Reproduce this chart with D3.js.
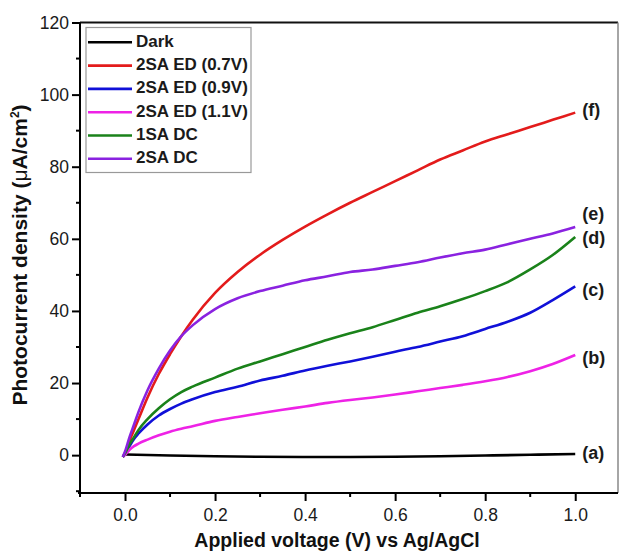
<!DOCTYPE html>
<html><head><meta charset="utf-8">
<script src="https://cdn.jsdelivr.net/npm/d3@7"></script>
<style>
html,body{margin:0;padding:0;background:#fff;}
svg{display:block;font-family:"Liberation Sans",Arial,sans-serif;}
</style></head>
<body><svg id="c" width="620" height="559"></svg>
<script>
const voltage = [-0.005, 0, 0.01, 0.02, 0.03, 0.05, 0.075, 0.1, 0.125, 0.15, 0.2, 0.25, 0.3, 0.35, 0.4, 0.45, 0.5, 0.55, 0.6, 0.65, 0.7, 0.75, 0.8, 0.85, 0.9, 0.95, 1.0];
const red2SA07 = [-0.5, 0.5, 4, 7, 10, 16, 22.5, 28, 33, 37.5, 45, 50.8, 55.6, 59.7, 63.4, 66.8, 70, 73, 76, 79, 82, 84.5, 87, 89, 91, 93, 95];
const purple2SADC = [-0.5, 1, 5, 8.5, 12, 18, 24, 29, 33, 36, 40.5, 43.5, 45.5, 47, 48.5, 49.6, 50.8, 51.5, 52.5, 53.5, 54.8, 56, 57, 58.5, 60, 61.5, 63.3];
const green1SADC = [-0.5, 0.5, 3, 5, 7, 10, 13, 15.5, 17.5, 19, 21.5, 24, 26, 28, 30, 32, 33.8, 35.5, 37.5, 39.5, 41.3, 43.3, 45.5, 48, 51.5, 55.5, 60.5];
const blue2SA09 = [-0.5, 0.3, 2.5, 4.5, 6, 8.5, 11, 12.8, 14.3, 15.5, 17.5, 19, 20.7, 22, 23.5, 24.8, 26, 27.3, 28.7, 30, 31.5, 33, 35, 37, 39.5, 43, 46.8];
const magenta2SA11 = [-0.5, 0, 1.5, 2.5, 3.2, 4.3, 5.5, 6.5, 7.3, 8, 9.5, 10.6, 11.6, 12.6, 13.5, 14.5, 15.3, 16, 16.8, 17.7, 18.6, 19.5, 20.5, 21.7, 23.3, 25.3, 27.8];
const darkVoltage = [0, 0.1, 0.2, 0.3, 0.4, 0.5, 0.6, 0.7, 0.8, 0.9, 1.0];
const darkValues = [0.2, -0.1, -0.3, -0.45, -0.5, -0.5, -0.45, -0.3, -0.1, 0.1, 0.3];

const legendNames = ["Dark", "2SA ED (0.7V)", "2SA ED (0.9V)", "2SA ED (1.1V)", "1SA DC", "2SA DC"];
const colors = ["#000000", "#e31b1b", "#1010d8", "#ee22e6", "#1a821a", "#8a22e0"];
const endLabels = ["(a)", "(f)", "(c)", "(b)", "(d)", "(e)"];
const endLabelValues = [0.3, 95.5, 45.5, 26.5, 60, 66.5];
const xTicks = [0, 0.2, 0.4, 0.6, 0.8, 1.0];
const xMinor = [-0.1, 0.1, 0.3, 0.5, 0.7, 0.9];
const yTicks = [0, 20, 40, 60, 80, 100, 120];
const yMinor = [-10, 10, 30, 50, 70, 90, 110];

const series = [
  {x: darkVoltage, y: darkValues},
  {x: voltage, y: red2SA07},
  {x: voltage, y: blue2SA09},
  {x: voltage, y: magenta2SA11},
  {x: voltage, y: green1SADC},
  {x: voltage, y: purple2SADC}
];

const svg = d3.select("#c");
const L = 80, R = 618, T = 22.5, B = 493;
const x = d3.scaleLinear().domain([-0.1, 1.095]).range([L, R]);
const y = d3.scaleLinear().domain([-10.5, 120]).range([B, T]);

// frame top and right
svg.append("line").attr("x1", L).attr("x2", R).attr("y1", T).attr("y2", T).attr("stroke", "#111").attr("stroke-width", 2);
svg.append("line").attr("x1", R).attr("x2", R).attr("y1", T).attr("y2", B).attr("stroke", "#888").attr("stroke-width", 1.5);

// axes
const xAxis = d3.axisBottom(x).tickValues(xTicks).tickFormat(d3.format(".1f")).tickSizeOuter(0).tickSize(8).tickPadding(8);
const gx = svg.append("g").attr("transform", `translate(0,${B})`).call(xAxis);
gx.append("g").selectAll("line").data(xMinor).join("line")
  .attr("x1", d => x(d)).attr("x2", d => x(d)).attr("y1", 0).attr("y2", 4).attr("stroke", "#000").attr("stroke-width", 2);
const yAxis = d3.axisLeft(y).tickValues(yTicks).tickSizeOuter(0).tickSize(8).tickPadding(3);
const gy = svg.append("g").attr("transform", `translate(${L},0)`).call(yAxis);
gy.append("g").selectAll("line").data(yMinor).join("line")
  .attr("y1", d => y(d)).attr("y2", d => y(d)).attr("x1", 0).attr("x2", -4).attr("stroke", "#000").attr("stroke-width", 2);
[gx, gy].forEach(g => {
  g.select(".domain").attr("stroke", "#000").attr("stroke-width", 2);
  g.selectAll(".tick line").attr("stroke", "#000").attr("stroke-width", 2);
  g.selectAll(".tick text").attr("font-size", 17.5).attr("fill", "#1a1a1a").attr("font-family", "Liberation Sans, Arial, sans-serif");
});
gy.select(".domain").attr("d", `M0,${B + 1}V${T}`);
gx.select(".domain").attr("d", `M${L - 2},0H${R}`);

// curves
const line = d3.line().x(d => x(d[0])).y(d => y(d[1])).curve(d3.curveMonotoneX);
series.forEach((s, i) => {
  svg.append("path").datum(s.x.map((v, k) => [v, s.y[k]]))
    .attr("d", line).attr("fill", "none").attr("stroke", colors[i]).attr("stroke-width", 2.6);
});

// end labels
svg.append("g").selectAll("text").data(endLabels).join("text")
  .attr("x", x(1.0) + 7).attr("y", (d, i) => y(endLabelValues[i]))
  .attr("dominant-baseline", "middle").attr("font-weight", "bold").attr("font-size", 18).attr("fill", "#1a1a1a")
  .text(d => d);

// legend
const lg = svg.append("g");
lg.append("rect").attr("x", 86).attr("y", 27.5).attr("width", 165).attr("height", 145)
  .attr("fill", "#fff").attr("stroke", "#999").attr("stroke-width", 1.2);
legendNames.forEach((n, i) => {
  const yy = 42.3 + i * 23.3;
  lg.append("line").attr("x1", 88).attr("x2", 132).attr("y1", yy).attr("y2", yy).attr("stroke", colors[i]).attr("stroke-width", 2.6);
  lg.append("text").attr("x", 136).attr("y", yy).attr("dominant-baseline", "middle")
    .attr("font-weight", "bold").attr("font-size", 17).attr("fill", "#1a1a1a").text(n);
});

// axis titles
svg.append("text").attr("x", 337).attr("y", 547).attr("text-anchor", "middle")
  .attr("font-weight", "bold").attr("font-size", 19.5).attr("fill", "#111").text("Applied voltage (V) vs Ag/AgCl");
const yt = svg.append("text").attr("transform", "translate(27,255) rotate(-90)").attr("text-anchor", "middle")
  .attr("font-weight", "bold").attr("font-size", 21).attr("fill", "#111");
yt.append("tspan").text("Photocurrent density (");
yt.append("tspan").text("μ").attr("font-weight", "normal");
yt.append("tspan").text("A/cm");
yt.append("tspan").text("2").attr("font-size", 12).attr("dy", -8);
yt.append("tspan").text(")").attr("dy", 8);
</script></body></html>
